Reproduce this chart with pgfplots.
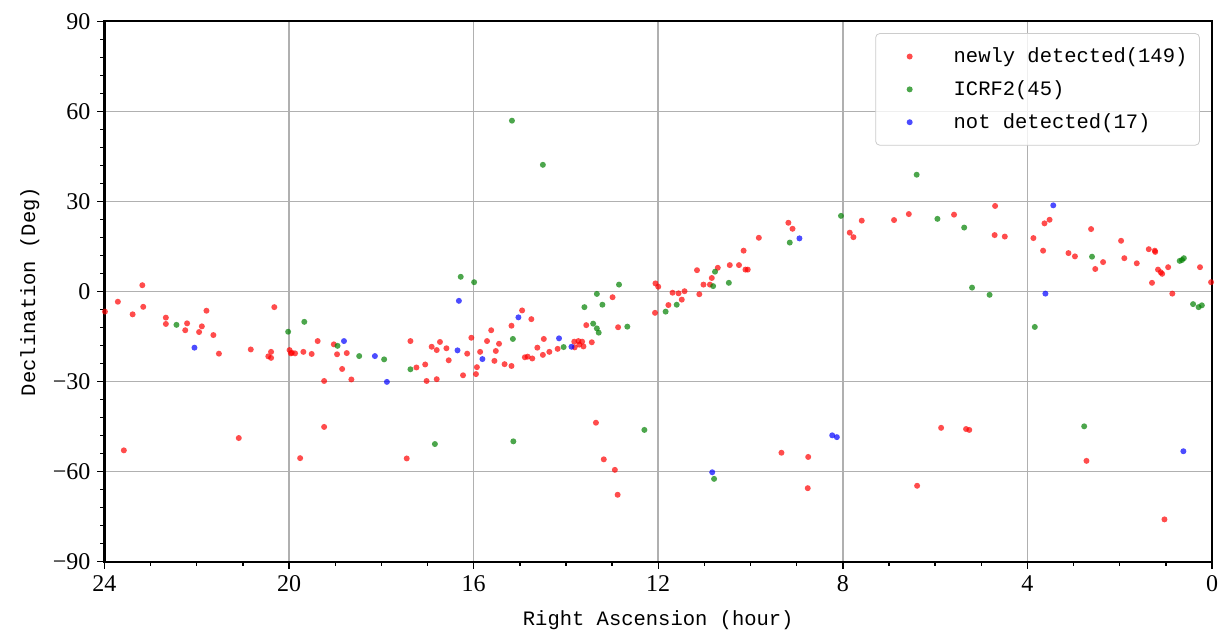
\documentclass[border=0pt]{standalone}
\usepackage{pgfplots}
\pgfplotsset{compat=1.18}
\usepackage{fontspec}
\setmainfont{Liberation Serif}
\newfontfamily\monofont{Liberation Mono}

\definecolor{ptred}{RGB}{255,0,0}
\definecolor{ptgreen}{RGB}{0,128,0}
\definecolor{ptblue}{RGB}{0,0,255}
\definecolor{gridgray}{RGB}{176,176,176}

\begin{document}
\begin{tikzpicture}
\begin{axis}[
    scale only axis,
    width=553.75pt, height=270.2pt,
    xmin=0, xmax=24, x dir=reverse,
    ymin=-90, ymax=90,
    xtick={0,4,8,12,16,20,24},
    ytick={-90,-60,-30,0,30,60,90},
    yticklabels={−90,−60,−30,0,30,60,90},
    minor x tick num=3,
    minor y tick num=4,
    tick pos=left,
    tick align=outside,
    major tick length=3.5pt,
    minor tick length=2pt,
    tick style={black, line width=0.7pt},
    grid=major,
    major grid style={gridgray, line width=0.8pt},
    axis line style={line width=1.1pt},
    tick label style={font=\fontsize{12}{14}\selectfont},
    /pgf/number format/assume math mode=true,
    xlabel={Right Ascension (hour)},
    ylabel={Declination (Deg)},
    label style={font=\monofont\fontsize{10.25}{12}\selectfont},
    xlabel style={at={(axis description cs:0.5,-0.108)}, anchor=center},
    ylabel style={at={(axis description cs:-0.0673,0.5)}, anchor=center},
    legend style={at={(0.989,0.978)}, anchor=north east,
        draw=black!20, rounded corners=2pt, fill=white, fill opacity=0.8,
        text opacity=1, draw opacity=1, inner xsep=4pt, inner ysep=5pt,
        row sep=3.5pt,
        font=\monofont\fontsize{10.25}{12}\selectfont},
    legend cell align=left,
    legend image code/.code={
        \path[draw=none, fill=none, use as bounding box] (0pt,-2pt) rectangle (33pt,2pt);
        \draw[#1] plot coordinates {(13pt,0pt)};},
    every axis plot/.append style={only marks, mark=*, mark size=1.5pt},
]
\addplot[color=ptred, mark options={fill=ptred, fill opacity=0.7, draw opacity=0}]
table {
x y
23.18 2.1
23.71 -3.4
23.16 -5.1
23.99 -6.7
23.39 -7.6
21.79 -6.4
20.32 -5.2
22.67 -8.7
22.67 -10.8
22.21 -10.6
22.25 -12.9
21.89 -11.6
21.95 -13.5
21.64 -14.5
21.52 -20.7
20.83 -19.3
20.39 -20.1
20.45 -21.6
20.39 -22.1
19.99 -19.5
19.94 -20.4
19.87 -20.6
19.96 -20.6
19.69 -20.1
19.51 -20.8
19.38 -16.5
19.03 -17.6
18.96 -20.9
18.75 -20.5
18.85 -25.8
18.65 -29.3
19.24 -29.8
17.37 -16.5
17.24 -25.3
17.05 -24.3
17.02 -29.8
16.80 -29.2
16.91 -18.4
16.80 -19.5
16.73 -16.8
16.59 -18.9
16.54 -22.9
16.23 -27.9
16.14 -20.7
16.05 -15.4
15.95 -27.5
15.93 -25.2
15.86 -20.1
15.71 -16.5
15.62 -12.9
15.52 -19.8
15.45 -17.4
15.55 -23.1
15.33 -24.2
15.18 -24.8
15.18 -11.4
14.95 -6.3
14.75 -9.2
14.89 -21.9
14.83 -21.7
14.73 -22.3
14.62 -18.7
14.48 -15.8
14.50 -21.1
14.36 -20.1
14.18 -19.1
13.82 -16.7
13.73 -16.5
13.65 -16.7
13.71 -17.7
13.62 -18.3
13.81 -18.6
13.44 -16.9
13.56 -11.2
12.99 -1.9
12.87 -11.9
12.06 2.7
12.00 1.6
12.07 -7.1
11.78 -4.5
11.69 -0.4
11.56 -0.6
11.43 0.1
11.49 -2.7
11.11 -0.9
11.02 2.3
11.16 7.1
10.88 2.3
10.84 4.5
10.71 7.9
10.45 8.8
10.25 8.8
10.11 7.3
10.06 7.3
10.15 13.6
9.82 17.9
9.18 22.9
9.09 20.9
7.85 19.6
7.77 18.1
7.59 23.6
6.89 23.8
6.57 25.8
5.59 25.6
4.70 28.5
4.71 18.8
4.49 18.3
3.87 17.8
3.66 13.6
3.63 22.7
3.52 23.9
2.62 20.8
3.11 12.8
2.97 11.7
2.53 7.5
2.36 9.8
1.97 16.9
1.90 11.1
1.63 9.4
1.37 14.1
1.24 13.6
1.23 13.2
1.17 7.3
1.11 6.4
1.08 5.9
1.30 2.9
0.95 8.1
0.86 -0.7
0.26 8.1
0.02 3.1
23.58 -52.9
21.09 -48.8
19.24 -45.1
19.76 -55.5
17.45 -55.6
13.35 -43.7
13.18 -55.9
12.94 -59.4
12.88 -67.7
9.33 -53.7
8.75 -55.1
8.76 -65.5
6.39 -64.7
5.87 -45.4
5.33 -45.8
5.26 -46.1
2.72 -56.4
1.03 -75.9
};
\addlegendentry{newly detected(149)}
\addplot[color=ptgreen, mark options={fill=ptgreen, fill opacity=0.7, draw opacity=0}]
table {
x y
22.44 -11.1
19.67 -10.1
20.02 -13.4
18.95 -18.1
18.48 -21.5
17.94 -22.6
16.28 4.9
15.99 3.1
17.37 -25.9
15.15 -15.8
14.05 -18.5
13.60 -5.2
13.33 -0.8
13.21 -4.4
13.41 -10.7
13.33 -12.3
13.29 -13.7
12.85 2.3
12.67 -11.7
11.84 -6.7
11.60 -4.4
10.77 6.6
10.81 1.8
10.47 2.9
9.15 16.3
8.04 25.2
5.95 24.2
5.37 21.3
5.20 1.3
4.82 -1.1
3.84 -11.8
2.60 11.6
0.70 10.2
0.65 10.5
0.61 11.1
0.41 -4.2
0.29 -5.2
0.22 -4.6
15.17 56.9
14.50 42.2
6.40 38.9
16.84 -50.8
15.14 -49.9
12.30 -46.1
10.79 -62.4
2.77 -44.9
};
\addlegendentry{ICRF2(45)}
\addplot[color=ptblue, mark options={fill=ptblue, fill opacity=0.7, draw opacity=0}]
table {
x y
22.05 -18.7
18.81 -16.5
18.14 -21.5
17.88 -30.1
16.32 -3.1
16.35 -19.6
15.81 -22.5
15.03 -8.6
14.15 -15.6
13.88 -18.4
8.94 17.7
3.44 28.7
3.61 -0.7
10.83 -60.2
8.23 -47.9
8.13 -48.5
0.62 -53.2
};
\addlegendentry{not detected(17)}
\coordinate (sw) at (axis description cs:0,0);
\coordinate (ne) at (axis description cs:1,1);
\end{axis}
\pgfresetboundingbox
\path ([xshift=-52.25pt,yshift=-35.65pt]sw) rectangle ([xshift=3pt,yshift=10.65pt]ne);
\end{tikzpicture}
\end{document}
